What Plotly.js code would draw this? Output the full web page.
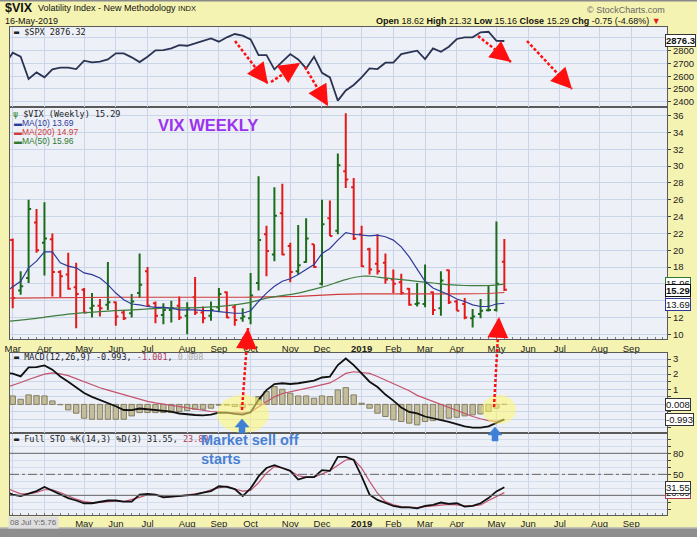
<!DOCTYPE html>
<html><head><meta charset="utf-8">
<script src="https://cdn.plot.ly/plotly-3.0.1.min.js"></script>
<style>html,body{margin:0;padding:0;background:#f5f3b2;}#chart{width:697px;height:537px;}</style>
</head><body><div id="chart"></div>
<script>
// ---------- DATA ----------
const weeks = ['2018-03-05','2018-03-12','2018-03-19','2018-03-26','2018-04-02','2018-04-09','2018-04-16','2018-04-23','2018-04-30','2018-05-07','2018-05-14','2018-05-21','2018-05-28','2018-06-04','2018-06-11','2018-06-18','2018-06-25','2018-07-02','2018-07-09','2018-07-16','2018-07-23','2018-07-30','2018-08-06','2018-08-13','2018-08-20','2018-08-27','2018-09-03','2018-09-10','2018-09-17','2018-09-24','2018-10-01','2018-10-08','2018-10-15','2018-10-22','2018-10-29','2018-11-05','2018-11-12','2018-11-19','2018-11-26','2018-12-03','2018-12-10','2018-12-17','2018-12-24','2018-12-31','2019-01-07','2019-01-14','2019-01-21','2019-01-28','2019-02-04','2019-02-11','2019-02-18','2019-02-25','2019-03-04','2019-03-11','2019-03-18','2019-03-25','2019-04-01','2019-04-08','2019-04-15','2019-04-22','2019-04-29','2019-05-06','2019-05-13'];
const priorWeek = '2018-02-26';

const vixOpen  = [21.2,15.2,16.7,23.3,20.9,21.3,17.4,17.1,15.6,15.3, 13.1,13.4,13.5,13.8,12.6,12.5,14.9,17.5,13.7,12.3, 12.9,13.4,12.2,14.4,12.6,12.2,13.2,15.0,13.2,11.9, 11.9,16.1,21.9,19.5,24.4,20.5,17.5,18.6,20.7,16.0, 23.8,22.3,29.4,27.5,21.9,20.1,18.4,18.5,16.5,16.2, 15.4,13.6,13.6,15.0,13.1,17.6,13.9,13.6,11.9,12.4, 12.85,12.9,18.62];
const vixHigh  = [21.4,17.5,26.0,24.9,25.7,22.0,17.6,19.7,18.5,15.5, 14.9,14.2,18.6,13.9,12.9,14.8,19.6,18.0,13.9,13.7, 14.0,14.5,13.8,16.8,13.3,13.9,15.5,15.1,13.5,13.1, 17.3,28.8,22.9,27.5,27.9,20.9,23.0,23.8,20.7,26.0, 25.9,31.5,36.3,28.6,22.9,20.3,21.9,19.6,17.7,17.2, 15.5,16.1,18.3,15.1,17.5,17.7,14.1,14.3,13.0,14.2, 15.8,23.4,21.32];
const vixLow   = [13.1,14.7,16.1,19.7,17.0,14.5,14.4,15.3,10.7,12.5, 12.0,12.1,12.9,11.0,11.7,12.0,14.3,13.3,11.3,11.2, 11.4,11.7,10.0,12.3,11.3,11.6,12.7,11.9,11.0,11.5, 11.2,15.2,16.9,18.7,19.4,16.2,17.1,18.5,17.9,15.8, 21.7,21.9,27.4,21.2,18.0,17.1,17.1,16.0,14.9,14.7, 13.4,13.3,13.2,12.3,12.2,13.6,12.8,11.8,10.8,11.9, 12.7,12.7,15.16];
const vixClose = [14.3,15.7,24.9,20.0,21.4,17.4,16.9,15.4,14.8,12.6, 13.4,13.1,13.8,12.1,11.9,13.9,15.9,13.4,12.2,12.9, 13.1,12.0,13.1,12.6,11.9,12.9,14.8,12.0,11.7,12.1, 14.6,21.2,19.9,24.1,19.5,17.4,18.2,21.4,18.0,23.1, 21.7,30.1,28.4,21.4,18.1,17.7,17.5,16.5,16.0,14.9, 13.5,13.7,16.1,12.9,16.4,13.8,12.8,12.0,12.1,12.8, 12.9,16.0,15.29];

// lines start one week earlier (prior week value runs off the left edge)
const spxClose = [2690, 2784,2753,2578,2630,2591,2654,2667,2667,2656,2722, 2708,2714,2732,2779,2779,2748,2711,2753,2803,2805, 2818,2844,2839,2857,2876,2897,2871,2905,2931,2918, 2889,2766,2766,2654,2714,2774,2732,2661,2753,2627, 2591,2408,2488,2531,2591,2661,2656,2706,2706,2774, 2787,2800,2735,2818,2792,2831,2892,2905,2905,2944, 2949,2878,2876.32];
const ma10 = [15.0, 15.7,16.3,17.9,18.7,19.8,19.8,18.5,18.1,17.9,17.3, 17.1,16.7,15.9,14.9,14.1,13.6,13.5,13.3,13.2,13.2, 13.1,12.9,12.9,12.9,12.8,12.8,12.7,12.6,12.5,12.5, 12.8,13.9,14.9,15.7,16.3,16.6,17.1,17.7,18.3,19.6, 20.2,21.2,22.1,21.9,21.8,21.7,21.8,21.6,21.2,20.4, 19.2,17.7,16.3,15.5,15.1,14.7,14.2,13.9,13.5,13.3, 13.3,13.6,13.69];
const ma200Dates = ['2018-02-26','2018-06-04','2018-09-24','2018-11-12','2018-12-17','2019-01-07','2019-04-01','2019-04-29','2019-05-13'];
const ma200 = [14.3,14.4,14.4,14.5,14.75,14.8,14.8,14.85,14.97];
const ma50Dates = ['2018-02-26','2018-03-26','2018-04-23','2018-05-21','2018-06-18','2018-07-16','2018-08-20','2018-09-17','2018-10-01','2018-10-15','2018-11-12','2018-12-03','2018-12-24','2019-01-07','2019-01-14','2019-01-28','2019-02-11','2019-02-25','2019-03-11','2019-03-25','2019-04-08','2019-04-29','2019-05-13'];
const ma50 = [11.5,11.9,12.4,12.7,12.9,13.1,13.2,13.5,13.8,14.3,14.9,15.6,16.5,16.9,16.9,16.7,16.5,16.3,16.1,15.9,15.8,15.8,15.96];

const macdLine = [2.1, 2.03,1.85,2.45,2.47,2.58,2.3,1.85,1.5,1.12,0.75, 0.5,0.3,0.08,-0.12,-0.37,-0.38,-0.27,-0.33,-0.4,-0.42, -0.48,-0.6,-0.67,-0.7,-0.72,-0.68,-0.55,-0.55,-0.62,-0.67, -0.52,0.3,0.95,1.35,1.4,1.35,1.4,1.5,1.57,1.78, 1.84,2.6,3.04,2.6,2.05,1.5,1.15,0.65,0.25,-0.2, -0.5,-0.6,-0.8,-0.9,-1.0,-1.15,-1.3,-1.45,-1.53,-1.53, -1.45,-1.2,-0.993];
const macdSignal = [1.1, 1.25,1.45,1.65,1.85,2.0,2.08,2.02,1.9,1.7,1.48, 1.3,1.1,0.95,0.8,0.6,0.45,0.32,0.2,0.1,0.02, -0.08,-0.18,-0.27,-0.35,-0.42,-0.47,-0.5,-0.52,-0.55,-0.58, -0.5,-0.15,0.2,0.5,0.72,0.85,0.96,1.06,1.18,1.28, 1.42,1.72,2.05,2.16,2.12,2.05,1.85,1.62,1.4,1.15, 0.91,0.6,0.4,0.15,0.0,-0.25,-0.45,-0.6,-0.8,-0.95, -1.07,-1.12,-1.001];
const macdHist = [0.56,0.34,0.63,0.58,0.56,0.23,-0.02,-0.36,-0.58,-0.91, -0.98,-0.98,-0.98,-0.98,-0.98,-0.76,-0.54,-0.54,-0.54,-0.54, -0.54,-0.47,-0.41,-0.32,-0.32,-0.25,-0.05,-0.05,-0.14,-0.2, -0.02,0.52,0.85,1.18,1.0,0.74,0.56,0.56,0.41,0.56, 0.52,0.96,1.11,0.63,0.08,-0.25,-0.58,-0.8,-1.02,-1.13, -1.24,-1.35,-1.13,-1.07,-1.02,-0.91,-0.85,-0.76,-0.69,-0.63, -0.47,-0.25,0.008];

const stoK = [26, 21,19,23,26,32,27,21,16,12.6,8.7, 8.7,11,12.6,12.6,11,11,21,22,21,17, 18,19,19,21,24,26,33,32,29,19, 30,47,59,63,59,55,42.5,46,46,56, 55,75,75,70.5,47,21,13.5,8.7,4.8,2.9, 2.9,1.4,4.8,6.3,9.7,7.7,8.7,3.9,4.8,8.7, 16,25.6,31.55];
const stoD = [31, 27,22,22,24,28,28,24,19,14.5,11, 9.7,10,11,12,11,13.5,17,21,21,19, 18,19,21,22,24,28,30,33,29,26, 27,38,52,61,59,55,48,46,46,51, 55,63,70.5,71.5,59,40,23,11,6.3,3.9, 2.9,2.4,3.9,4.8,6.3,7.2,6.3,4.8,4.8,6.3, 12.6,18.4,23.89];

const monthTicks = ['2018-03-05','2018-04-02','2018-05-07','2018-06-04','2018-07-02','2018-08-06','2018-09-03','2018-10-01','2018-11-05','2018-12-03','2019-01-07','2019-02-04','2019-03-04','2019-04-01','2019-05-06','2019-06-03','2019-07-01','2019-08-05','2019-09-02'];
const monthLabels = ['Mar','Apr','May','Jun','Jul','Aug','Sep','Oct','Nov','Dec','<b>2019</b>','Feb','Mar','Apr','May','Jun','Jul','Aug','Sep'];
// bottom row: the first two labels sit under the cursor read-out box
const bottomLabels = ['','','May','Jun','Jul','Aug','Sep','Oct','Nov','Dec','<b>2019</b>','Feb','Mar','Apr','May','Jun','Jul','Aug','Sep'];

// ---------- BUILD ----------
const lineDates = [priorWeek].concat(weeks);
const GREEN = '#1c6b1c', RED = '#e31a1a', GRID = '#c9d5e8', BORDER = '#5a5a5a';
const upIdx = [], dnIdx = [];
vixClose.forEach((c, i) => { const ref = i === 0 ? vixOpen[0] : vixClose[i-1]; (c > ref ? upIdx : dnIdx).push(i); });
const pick = (arr, idx) => idx.map(i => arr[i]);
function ohlcTrace(idx, color) {
  return {type:'ohlc', xaxis:'x2', yaxis:'y2', x:pick(weeks, idx), open:pick(vixOpen, idx), high:pick(vixHigh, idx), low:pick(vixLow, idx), close:pick(vixClose, idx),
    increasing:{line:{color:color, width:2}}, decreasing:{line:{color:color, width:2}}, tickwidth:0.32, hoverinfo:'skip'};
}
const traces = [
  {type:'scatter', mode:'lines', xaxis:'x3', yaxis:'y', x:lineDates, y:spxClose, line:{color:'#2b3352', width:1.8}, hoverinfo:'skip'},
  {type:'scatter', mode:'lines', xaxis:'x2', yaxis:'y2', x:ma200Dates, y:ma200, line:{color:'#d23b3b', width:1.2}, hoverinfo:'skip'},
  {type:'scatter', mode:'lines', xaxis:'x2', yaxis:'y2', x:ma50Dates, y:ma50, line:{color:'#3f7d3f', width:1.2, shape:'spline'}, hoverinfo:'skip'},
  {type:'scatter', mode:'lines', xaxis:'x2', yaxis:'y2', x:lineDates, y:ma10, line:{color:'#2d3a9a', width:1.2}, hoverinfo:'skip'},
  ohlcTrace(upIdx, GREEN),
  ohlcTrace(dnIdx, RED),
  {type:'bar', xaxis:'x4', yaxis:'y3', x:weeks, y:macdHist, width:7*86400000*0.68, marker:{color:'#c4bd9b', line:{color:'#847e62', width:1}}, hoverinfo:'skip'},
  {type:'scatter', mode:'lines', xaxis:'x4', yaxis:'y3', x:lineDates, y:macdSignal, line:{color:'#c4526e', width:1.2}, hoverinfo:'skip'},
  {type:'scatter', mode:'lines', xaxis:'x4', yaxis:'y3', x:lineDates, y:macdLine, line:{color:'#111', width:1.8}, hoverinfo:'skip'},
  {type:'scatter', mode:'lines', xaxis:'x', yaxis:'y4', x:lineDates, y:stoD, line:{color:'#c4526e', width:1.2}, hoverinfo:'skip'},
  {type:'scatter', mode:'lines', xaxis:'x', yaxis:'y4', x:lineDates, y:stoK, line:{color:'#111', width:1.8}, hoverinfo:'skip'}
];

// pixel -> paper helpers for hand-drawn overlays
const P = px => (px - 10) / 657;
const Q = py => 1 - py / 537;

const xCommon = {type:'date', range:['2018-03-02 14:00','2019-10-03 14:00'], tickmode:'array', tickvals:monthTicks, ticktext:monthLabels,
  showgrid:true, gridcolor:GRID, gridwidth:1, showline:true, mirror:true, linecolor:BORDER, linewidth:1, ticks:'', zeroline:false,
  tickfont:{size:9.5, color:'#222'}, fixedrange:true, rangeslider:{visible:false}};
const yCommon = {side:'right', showline:true, mirror:true, linecolor:BORDER, linewidth:1, ticks:'outside', ticklen:3, tickcolor:'#444',
  showgrid:true, gridcolor:GRID, gridwidth:1, zeroline:false, tickfont:{size:9.5, color:'#222'}, fixedrange:true};
const minorX = {ticks:'inside', ticklen:2, tickcolor:'#777', dtick:7*86400000, tick0:'2018-03-05', showgrid:false};

const layout = {
  width:697, height:537, margin:{l:10, r:30, t:0, b:0},
  paper_bgcolor:'#f5f3b2', plot_bgcolor:'#edf0f7', showlegend:false,
  font:{family:'Liberation Sans, Arial, sans-serif', size:9.5, color:'#222'},
  xaxis:  Object.assign({}, xCommon, {anchor:'y4', minor:minorX, ticktext:bottomLabels}),
  xaxis2: Object.assign({}, xCommon, {anchor:'y2', matches:'x', minor:minorX}),
  xaxis3: Object.assign({}, xCommon, {anchor:'y', matches:'x', showticklabels:false}),
  xaxis4: Object.assign({}, xCommon, {anchor:'y3', matches:'x', showticklabels:false}),
  yaxis:  Object.assign({}, yCommon, {anchor:'x3', domain:[Q(107.3), Q(26.5)], range:[2356, 2990], tickvals:[2400,2500,2600,2700,2800,2900], ticktext:['2400','2500','2600','2700','2800','']}),
  yaxis2: Object.assign({}, yCommon, {anchor:'x2', domain:[Q(339.3), Q(107.3)], range:[9.4, 37.0], tickvals:[10,12,14,16,18,20,22,24,26,28,30,32,34,36], ticktext:['10','12','','','18','20','22','24','26','28','30','32','34','36']}),
  yaxis3: Object.assign({}, yCommon, {anchor:'x4', domain:[Q(433.3), Q(352.7)], range:[-1.91, 3.42], tickvals:[-1.5,-1,-0.5,0,0.5,1,1.5,2,2.5,3], ticktext:['','','','','','1','','2','','3']}),
  yaxis4: Object.assign({}, yCommon, {anchor:'x', domain:[Q(515), Q(433.3)], range:[-8.1, 108.6], tickvals:[0,10,20,30,40,50,60,70,80,90,100], ticktext:['','','','','','50','','','80','',''], gridcolor:'#d3ddec'}),
  shapes:[], annotations:[]
};

// STO reference lines
[[80,'solid'],[50,'dashdot'],[20,'solid']].forEach(([v,d]) => layout.shapes.push({type:'line', xref:'x', yref:'y4', x0:'2018-03-02 14:00', x1:'2019-10-03 14:00', y0:v, y1:v, line:{color:'#666', width:1, dash:d}}));

// frame bars
layout.shapes.push({type:'rect', xref:'paper', yref:'paper', x0:P(0), x1:P(697), y0:Q(537), y1:Q(527.5), fillcolor:'#8e8e8e', line:{width:0}, layer:'above'});
layout.shapes.push({type:'rect', xref:'paper', yref:'paper', x0:P(0), x1:P(697), y0:Q(528.5), y1:Q(527.5), fillcolor:'#c8c8c8', line:{width:0}, layer:'above'});
layout.shapes.push({type:'rect', xref:'paper', yref:'paper', x0:P(0), x1:P(697), y0:Q(1.5), y1:Q(0), fillcolor:'#8a8a8a', line:{width:0}, layer:'above'});

// yellow highlight circles
layout.shapes.push({type:'circle', xref:'paper', yref:'paper', x0:P(217), x1:P(269), y0:Q(433), y1:Q(395), fillcolor:'rgba(255,248,110,0.55)', line:{width:0}, layer:'above'});
layout.shapes.push({type:'circle', xref:'paper', yref:'paper', x0:P(482), x1:P(516), y0:Q(424), y1:Q(395), fillcolor:'rgba(255,248,110,0.55)', line:{width:0}, layer:'above'});

// hand-drawn red dotted arrows
function arrow(x0, y0, x1, y1) {
  layout.shapes.push({type:'line', xref:'paper', yref:'paper', x0:P(x0), y0:Q(y0), x1:P(x1), y1:Q(y1), line:{color:'#ff1010', width:2.5, dash:'3px,2px'}, layer:'above'});
  const dx = x1 - x0, dy = y1 - y0, L = Math.hypot(dx, dy);
  layout.annotations.push({xref:'paper', yref:'paper', x:P(x1), y:Q(y1), text:'', showarrow:true, arrowhead:2, arrowsize:1.6, arrowwidth:2.6, arrowcolor:'#ff1010',
    ax:-dx / L * 12, ay:-dy / L * 12, standoff:0});
}
arrow(235, 41, 268, 84);
arrow(271, 82, 300, 63);
arrow(305, 67, 328, 106);
arrow(478, 36, 511, 62);
arrow(527, 41, 572, 89);
arrow(242, 410, 248, 328);
arrow(494, 407, 499, 317);

// blue block arrows
function blockArrow(cx, top) {
  const pts = [[cx-7, top+8],[cx, top],[cx+7, top+8],[cx+3, top+8],[cx+3, top+14],[cx-3, top+14],[cx-3, top+8]];
  const path = 'M ' + pts.map(p => P(p[0]) + ',' + Q(p[1])).join(' L ') + ' Z';
  layout.shapes.push({type:'path', xref:'paper', yref:'paper', path:path, fillcolor:'#3d80d6', line:{color:'#3d80d6', width:0.5}, layer:'above'});
}
blockArrow(242, 419);
blockArrow(495, 427);

// text helpers
function txt(px, py, text, font, extra) {
  layout.annotations.push(Object.assign({xref:'paper', yref:'paper', x:P(px), y:Q(py), xanchor:'left', yanchor:'middle', text:text, showarrow:false,
    font:Object.assign({family:'Liberation Sans, Arial, sans-serif', size:9.5, color:'#111'}, font || {})}, extra || {}));
}
const MONO = 'DejaVu Sans Mono, monospace';
txt(3, 8, '<b>$VIX</b>', {size:12.5});
txt(36, 8, 'Volatility Index - New Methodology <span style="font-size:7.5px">INDX</span>', {size:9});
txt(3, 20.5, '16-May-2019', {size:9});
txt(667, 10, '\u00a9 StockCharts.com', {size:9, color:'#666'}, {xanchor:'right'});
txt(663, 20.5, '<b>Open</b> 18.62 <b>High</b> 21.32 <b>Low</b> 15.16 <b>Close</b> 15.29 <b>Chg</b> -0.75 (-4.68%) <span style="color:#e02020">\u25BC</span>', {size:9}, {xanchor:'right'});

txt(12, 32, '\u25AC $SPX ' + spxClose[spxClose.length-1], {family:MONO, size:8.5, color:'#222'});
txt(11, 113.5, '<span style="color:#2e8a2e">\u03C8</span> $VIX (Weekly) ' + vixClose[vixClose.length-1], {family:MONO, size:8.5, color:'#222'});
txt(12, 122.7, '\u25AC<span style="font-size:8.5px">MA(10) ' + ma10[ma10.length-1] + '</span>', {size:8, color:'#2d3a9a'});
txt(12, 132, '\u25AC<span style="font-size:8.5px">MA(200) ' + ma200[ma200.length-1] + '</span>', {size:8, color:'#d23b3b'});
txt(12, 141.3, '\u25AC<span style="font-size:8.5px">MA(50) ' + ma50[ma50.length-1] + '</span>', {size:8, color:'#2f7a2f'});
txt(156, 125, '<b>VIX WEEKLY</b>', {size:16.5, color:'#9b32ee'});
txt(12, 357.3, '\u25AC MACD(12,26,9) ' + macdLine[macdLine.length-1] + ', <span style="color:#b03a5a">' + macdSignal[macdSignal.length-1].toFixed(3) + '</span>, <span style="color:#aaa">' + macdHist[macdHist.length-1].toFixed(3) + '</span>', {family:MONO, size:8.5, color:'#222'});
txt(12, 439.3, '\u25AC Full STO %K(14,3) %D(3) ' + stoK[stoK.length-1] + ', <span style="color:#b03a5a">' + stoD[stoD.length-1] + '</span>', {family:MONO, size:8.5, color:'#222'});
txt(199, 449.5, '<b>Market sell off<br>starts</b>', {size:14.5, color:'#4a80d2'}, {align:'left'});
txt(8, 522, '08 Jul Y:5.76', {size:8, color:'#666'}, {bgcolor:'#dedede', borderpad:1});

// right value tags
function tag(yref, y, text, border, bold) {
  layout.annotations.push({xref:'paper', x:1, xanchor:'left', xshift:-2, yref:yref, y:y, yanchor:'middle', text:bold ? '<b>' + text + '</b>' : text,
    showarrow:false, bgcolor:'#ffffff', bordercolor:border, borderwidth:1, borderpad:0, font:{size:9.5, color:'#111'}});
}
tag('y', spxClose[spxClose.length-1], spxClose[spxClose.length-1].toFixed(1), '#333', true);
tag('y2', ma50[ma50.length-1] + 0.1, ma50[ma50.length-1].toFixed(2), '#2f7a2f', false);
tag('y2', ma200[ma200.length-1], ma200[ma200.length-1].toFixed(2), '#d23b3b', false);
tag('y2', vixClose[vixClose.length-1] - 0.1, vixClose[vixClose.length-1].toFixed(2), '#111', true);
tag('y2', ma10[ma10.length-1] - 0.1, ma10[ma10.length-1].toFixed(2), '#2d3a9a', false);
tag('y3', macdHist[macdHist.length-1], macdHist[macdHist.length-1].toFixed(3), '#333', false);
tag('y3', macdLine[macdLine.length-1], macdLine[macdLine.length-1].toFixed(3), '#333', false);
tag('y4', stoD[stoD.length-1], stoD[stoD.length-1].toFixed(2), '#b03a5a', false);
tag('y4', stoK[stoK.length-1], stoK[stoK.length-1].toFixed(2), '#333', false);

Plotly.newPlot('chart', traces, layout, {staticPlot:true, displayModeBar:false});
</script></body></html>
